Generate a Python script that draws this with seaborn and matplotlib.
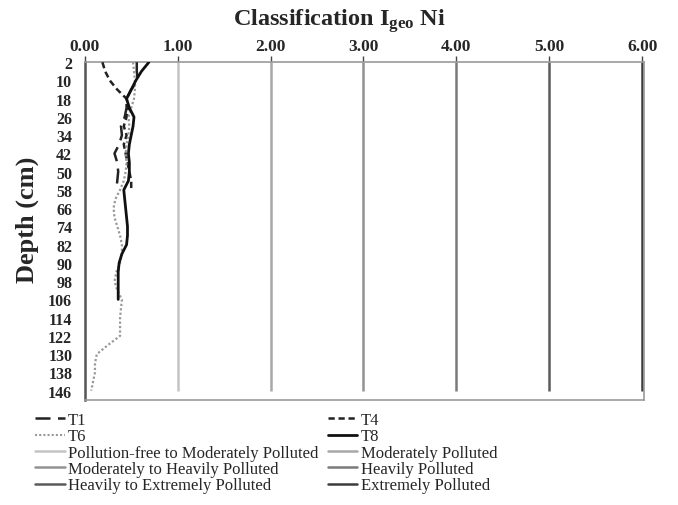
import matplotlib
matplotlib.use("Agg")
import matplotlib.pyplot as plt
import seaborn as sns
import pandas as pd
from matplotlib.lines import Line2D

sns.set_theme(style="white")
plt.rcParams['font.family'] = ['Liberation Serif', 'DejaVu Serif']
plt.rcParams['mathtext.fontset'] = 'custom'
plt.rcParams['mathtext.rm'] = 'Liberation Serif:bold'
plt.rcParams['mathtext.bf'] = 'Liberation Serif:bold'
plt.rcParams['mathtext.it'] = 'Liberation Serif:bold'

# ---- data ----
depth_T1 = [2, 6, 10, 14, 18, 22, 26, 30, 34, 38, 42, 46, 50, 54, 58]
igeo_T1 = [0.56, 0.56, 0.57, 0.50, 0.45, 0.45, 0.43, 0.39, 0.40, 0.37, 0.32, 0.35, 0.36, 0.35, 0.34]

depth_T4 = [2, 6, 10, 14, 18, 22, 26, 30, 34, 38, 42, 46, 50, 54, 58]
igeo_T4 = [0.19, 0.22, 0.27, 0.35, 0.45, 0.47, 0.45, 0.42, 0.45, 0.42, 0.44, 0.46, 0.48, 0.50, 0.50]

depth_T6 = [2, 6, 10, 14, 18, 22, 26, 30, 34, 38, 42, 46, 50, 54, 58, 62, 66, 70, 74,
            78, 82, 86, 90, 94, 98, 102, 106, 110, 114, 118, 122, 126, 130, 134, 138, 142, 146]
igeo_T6 = [0.52, 0.53, 0.54, 0.54, 0.53, 0.50, 0.47, 0.48, 0.47, 0.45, 0.44, 0.45, 0.44,
           0.42, 0.38, 0.33, 0.31, 0.32, 0.35, 0.38, 0.40, 0.40, 0.38, 0.34, 0.32, 0.35,
           0.40, 0.39, 0.38, 0.38, 0.38, 0.25, 0.13, 0.11, 0.11, 0.09, 0.07]

depth_T8 = [2, 6, 10, 14, 18, 22, 26, 30, 34, 38, 42, 46, 50, 54, 58, 62, 66, 70, 74,
            78, 82, 86, 90, 94, 98, 102, 106]
igeo_T8 = [0.69, 0.61, 0.55, 0.50, 0.45, 0.48, 0.53, 0.52, 0.50, 0.48, 0.47, 0.48, 0.48,
           0.47, 0.42, 0.43, 0.44, 0.45, 0.46, 0.46, 0.45, 0.40, 0.37, 0.36, 0.36, 0.36, 0.36]

class_values = [1, 2, 3, 4, 5, 6]
class_labels = ["Pollution-free to Moderately Polluted", "Moderately Polluted",
                "Moderately to Heavily Polluted", "Heavily Polluted",
                "Heavily to Extremely Polluted", "Extremely Polluted"]
class_colors = ["#c4c4c4", "#a8a8a8", "#929292", "#7a7a7a", "#5a5a5a", "#3c3c3c"]

depth_ticks = list(range(2, 147, 8))
x_ticks = [0, 1, 2, 3, 4, 5, 6]

fig = plt.figure(figsize=(6.78, 5.06), dpi=100)
ax = fig.add_axes([0.125, 0.208, 0.825, 0.667])

# threshold lines
for v, c in zip(class_values, class_colors):
    ax.vlines(v, 2, 146, color=c, lw=1.8, zorder=1)

series = [
    ("T1", depth_T1, igeo_T1, "#222222", (6, 3), 1.8),
    ("T4", depth_T4, igeo_T4, "#222222", (2.5, 1.5), 1.8),
    ("T6", depth_T6, igeo_T6, "#999999", (1, 1), 1.6),
    ("T8", depth_T8, igeo_T8, "#111111", None, 2.0),
]
for name, d, v, c, dash, lw in series:
    df = pd.DataFrame({"depth": d, "igeo": v})
    sns.lineplot(data=df, x="igeo", y="depth", orient="y", ax=ax,
                 color=c, lw=lw, zorder=3)
    l = ax.lines[-1]
    if dash is not None:
        l.set_dashes(dash)

ax.set_xlim(0, 6.02)
ax.set_ylim(150, 2)
ax.xaxis.tick_top()
ax.set_xticks(x_ticks)
ax.set_xticklabels([f"{t:.2f}" for t in x_ticks], fontweight="bold", fontsize=12.5)
ax.set_yticks(depth_ticks)
ax.set_yticklabels([str(t) for t in depth_ticks], fontweight="bold", fontsize=11.5)
ax.tick_params(axis="x", direction="out", length=4, width=1, color="#444444", pad=2)
ax.tick_params(axis="y", direction="out", length=4, width=1, color="#444444", pad=5)
ax.set_xlabel("")
ax.set_ylabel("Depth (cm)", fontweight="bold", fontsize=19)
ax.yaxis.set_label_coords(-0.082, 0.535)
for s in ["top", "right", "bottom"]:
    ax.spines[s].set_color("#9a9a9a")
    ax.spines[s].set_linewidth(1.2)
ax.spines["left"].set_color("#555555")
ax.spines["left"].set_linewidth(1.8)

fig.text(0.5, 0.958, r"Classification I$_{\mathrm{geo}}$ Ni", ha="center", va="center",
         fontsize=17.5, fontweight="bold")

# legend
h = {}
h["T1"] = Line2D([], [], color="#222222", lw=1.8, dashes=(6, 3))
h["T4"] = Line2D([], [], color="#222222", lw=1.8, dashes=(2.5, 1.5))
h["T6"] = Line2D([], [], color="#999999", lw=1.5, dashes=(1, 1))
h["T8"] = Line2D([], [], color="#111111", lw=2.0)
for lab, c in zip(class_labels, class_colors):
    h[lab] = Line2D([], [], color=c, lw=1.8)
order = ["T1", "T6", class_labels[0], class_labels[2], class_labels[4],
         "T4", "T8", class_labels[1], class_labels[3], class_labels[5]]
fig.legend([h[k] for k in order], order, ncol=2, loc="upper left",
           bbox_to_anchor=(0.04, 0.2), frameon=False, fontsize=12,
           handlelength=1.75, handletextpad=0.2, labelspacing=0.02,
           columnspacing=0.6, borderpad=0.0)

fig.savefig("out.png", dpi=100)
